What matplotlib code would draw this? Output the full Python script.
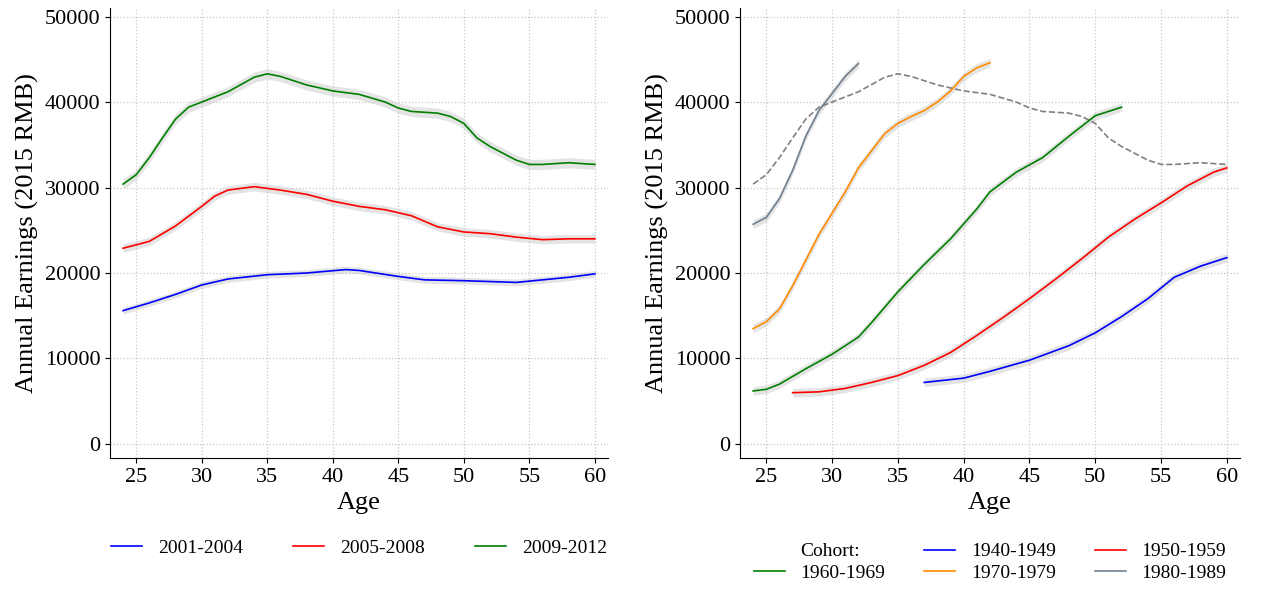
import matplotlib.pyplot as plt
import numpy as np

plt.rcParams['font.family'] = ['Liberation Serif']
plt.rcParams['font.size'] = 16

# left panel: periods
p1_age = [24, 26, 28, 30, 32, 35, 38, 41, 42, 45, 47, 50, 52, 54, 56, 58, 60]
p1_val = [15600, 16500, 17500, 18600, 19300, 19800, 20000, 20400, 20300, 19600, 19200, 19100, 19000, 18900, 19200, 19500, 19900]
p2_age = [24, 25, 26, 28, 30, 31, 32, 34, 36, 38, 40, 42, 44, 46, 48, 50, 52, 54, 56, 58, 60]
p2_val = [22900, 23300, 23700, 25500, 27800, 29000, 29700, 30100, 29700, 29200, 28400, 27800, 27400, 26700, 25400, 24800, 24600, 24200, 23900, 24000, 24000]
p3_age = [24, 25, 26, 27, 28, 29, 30, 32, 34, 35, 36, 38, 40, 42, 44, 45, 46, 48, 49, 50, 51, 52, 54, 55, 56, 58, 60]
p3_val = [30400, 31500, 33500, 35800, 38000, 39400, 40000, 41200, 42900, 43300, 43000, 42000, 41300, 40900, 40000, 39300, 38900, 38700, 38300, 37500, 35800, 34800, 33200, 32700, 32700, 32900, 32700]

# right panel: cohorts
c40_age = [37, 40, 42, 45, 48, 50, 52, 54, 56, 58, 60]
c40_val = [7200, 7700, 8500, 9800, 11500, 13000, 14900, 17000, 19500, 20800, 21800]
c50_age = [27, 29, 31, 33, 35, 37, 39, 41, 43, 45, 47, 49, 51, 53, 55, 57, 59, 60]
c50_val = [6000, 6100, 6500, 7200, 8000, 9200, 10700, 12700, 14800, 17000, 19300, 21700, 24200, 26300, 28200, 30200, 31800, 32300]
c60_age = [24, 25, 26, 28, 30, 32, 33, 35, 37, 39, 41, 42, 44, 46, 48, 50, 52]
c60_val = [6200, 6400, 7000, 8800, 10500, 12500, 14200, 17800, 21000, 24000, 27500, 29500, 31800, 33500, 36000, 38400, 39400]
c70_age = [24, 25, 26, 27, 28, 29, 30, 31, 32, 33, 34, 35, 36, 37, 38, 39, 40, 41, 42]
c70_val = [13500, 14300, 15800, 18500, 21500, 24500, 27000, 29500, 32300, 34300, 36300, 37500, 38300, 39000, 40000, 41300, 43000, 44000, 44600]
c80_age = [24, 25, 26, 27, 28, 29, 30, 31, 32]
c80_val = [25700, 26500, 28700, 32000, 36000, 39000, 41000, 43000, 44500]

fig = plt.figure(figsize=(12.62, 5.9), dpi=100)
ax1 = fig.add_axes([110 / 1262, 1 - 458 / 590, 498 / 1262, 450 / 590])
ax2 = fig.add_axes([740 / 1262, 1 - 458 / 590, 500 / 1262, 450 / 590])


def band(ax, x, y, w):
    y = np.array(y)
    ax.fill_between(x, y - w, y + w, color='#d9d9d9', alpha=0.7, lw=0)


for ax in (ax1, ax2):
    ax.set_xlim(23.0, 61)
    ax.set_ylim(-1640, 51000)
    ax.set_xticks([25, 30, 35, 40, 45, 50, 55, 60])
    ax.set_yticks(range(0, 50001, 10000))
    ax.grid(True, ls=':', color='#c8c8c8', lw=0.9)
    ax.spines['top'].set_visible(False)
    ax.spines['right'].set_visible(False)
    ax.set_xlabel('Age', fontsize=19)
    ax.set_ylabel('Annual Earnings (2015 RMB)', fontsize=19)

band(ax1, p1_age, p1_val, 400)
band(ax1, p2_age, p2_val, 500)
band(ax1, p3_age, p3_val, 600)
ax1.plot(p1_age, p1_val, color='blue', lw=1.2, label='2001-2004')
ax1.plot(p2_age, p2_val, color='red', lw=1.2, label='2005-2008')
ax1.plot(p3_age, p3_val, color='green', lw=1.2, label='2009-2012')
ax1.legend(loc='center', bbox_to_anchor=(0.5, -0.2), ncol=3, frameon=False,
           handlelength=1.6, columnspacing=2.6, fontsize=14)

ax2.plot(p3_age, p3_val, color='gray', ls='--', lw=1.2)
for a, v in [(c40_age, c40_val), (c50_age, c50_val), (c60_age, c60_val), (c70_age, c70_val), (c80_age, c80_val)]:
    band(ax2, a, v, 500)
h40, = ax2.plot(c40_age, c40_val, color='blue', lw=1.2, label='1940-1949')
h50, = ax2.plot(c50_age, c50_val, color='red', lw=1.2, label='1950-1959')
h60, = ax2.plot(c60_age, c60_val, color='green', lw=1.2, label='1960-1969')
h70, = ax2.plot(c70_age, c70_val, color='darkorange', lw=1.2, label='1970-1979')
h80, = ax2.plot(c80_age, c80_val, color='slategray', lw=1.2, label='1980-1989')
blank, = ax2.plot([], [], color='none', label='Cohort:')
ax2.legend(handles=[blank, h60, h40, h70, h50, h80], loc='center',
           bbox_to_anchor=(0.5, -0.232), ncol=3, frameon=False,
           handlelength=1.6, columnspacing=2.0, labelspacing=0.2, fontsize=14)

fig.savefig('out.png')
